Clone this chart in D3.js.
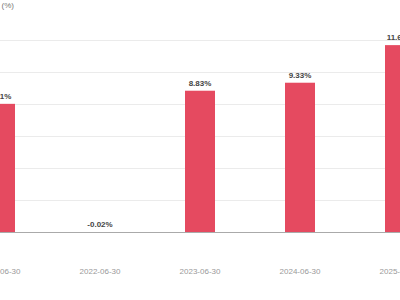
<!DOCTYPE html>
<html><head><meta charset="utf-8">
<script src="https://cdn.jsdelivr.net/npm/d3@7"></script>
<style>body{margin:0;background:#fff;}svg{display:block;font-family:Arial,"Liberation Sans",sans-serif;}</style>
</head><body>
<svg id="c" width="400" height="300"></svg>
<script>
const categories = ["2021-06-30","2022-06-30","2023-06-30","2024-06-30","2025-06-30"];
const values = [8.01, -0.02, 8.83, 9.33, 11.68];
const yTicks = [0,2,4,6,8,10,12];
const unitLabel = "(%)";

const svg = d3.select("#c");
const x = d3.scaleBand().domain(categories).range([-50,450]).paddingInner(0.7).paddingOuter(0.35);
const y = d3.scaleLinear().domain([0,12]).range([232,40]);

svg.append("g").selectAll("line").data(yTicks.filter(t=>t>0)).join("line")
  .attr("x1",0).attr("x2",400).attr("y1",d=>y(d)).attr("y2",d=>y(d))
  .attr("stroke","#ebebeb").attr("stroke-width",1).attr("shape-rendering","crispEdges");

svg.append("g").selectAll("rect").data(values).join("rect")
  .attr("x",(d,i)=>x(categories[i])).attr("width",x.bandwidth())
  .attr("y",d=>y(Math.max(d,0))).attr("height",d=>Math.abs(y(d)-y(0)))
  .attr("fill","#e54a60");

svg.append("line").attr("x1",0).attr("x2",400).attr("y1",y(0)).attr("y2",y(0))
  .attr("stroke","#aaaaaa").attr("stroke-width",1).attr("shape-rendering","crispEdges");

svg.append("g").selectAll("text").data(values).join("text")
  .attr("x",(d,i)=>x(categories[i])+x.bandwidth()/2)
  .attr("y",d=>y(Math.max(d,0))-5)
  .attr("text-anchor","middle").attr("font-size",8).attr("font-weight","bold").attr("fill","#444")
  .text(d=>d.toFixed(2)+"%");

const xAxis = d3.axisBottom(x).tickSize(0).tickPadding(0);
const gx = svg.append("g").attr("transform","translate(0,268)").call(xAxis);
gx.select(".domain").remove();
gx.selectAll("text").attr("font-size",8).attr("fill","#999").attr("font-family","Arial, 'Liberation Sans', sans-serif");

svg.append("text").attr("x",14).attr("y",8).attr("text-anchor","end")
  .attr("font-size",8).attr("fill","#777").text(unitLabel);
</script>
</body></html>
